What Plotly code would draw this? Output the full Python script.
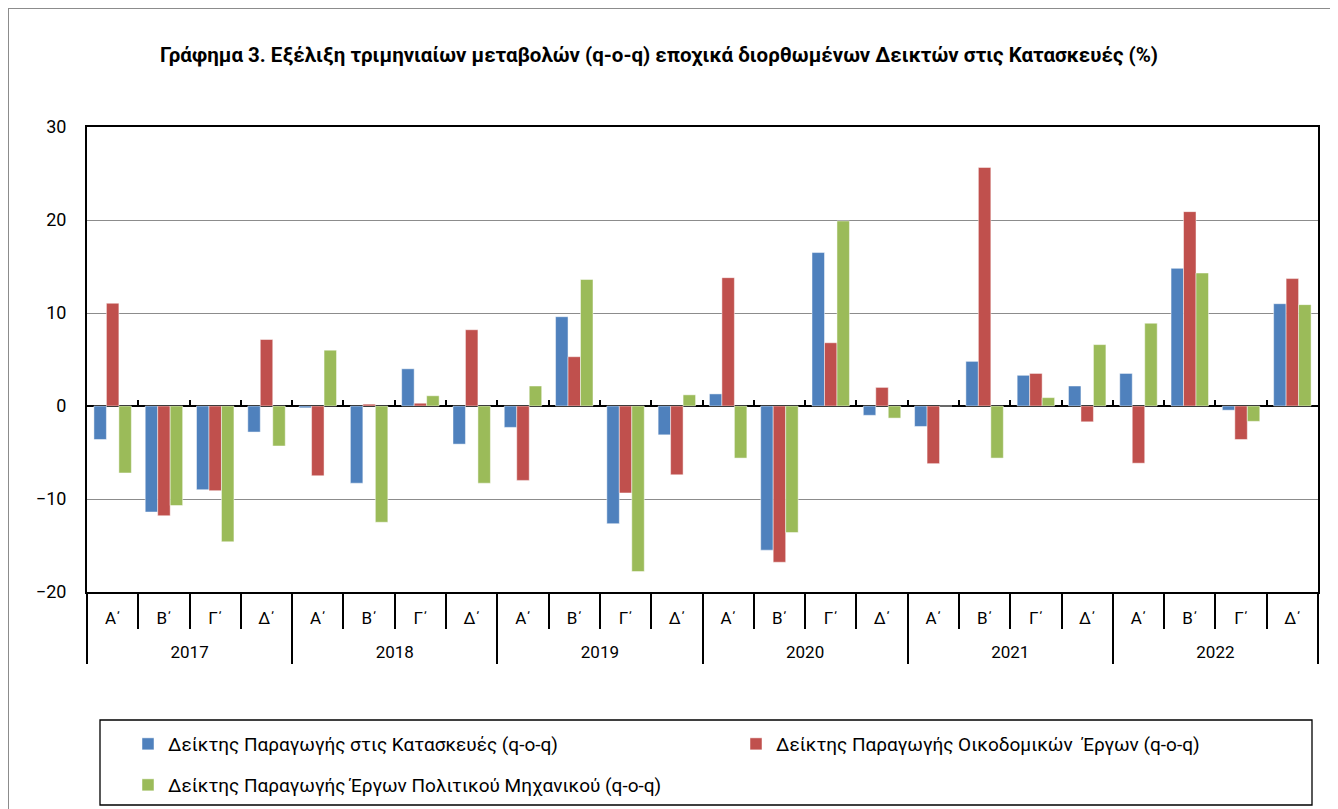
import plotly.graph_objects as go

years = ["2017", "2018", "2019", "2020", "2021", "2022"]
quarters = ["Α΄", "Β΄", "Γ΄", "Δ΄"]

construction = [-3.6, -11.4, -9.0, -2.8,
                -0.2, -8.3, 4.0, -4.1,
                -2.3, 9.6, -12.65, -3.1,
                1.3, -15.5, 16.5, -1.0,
                -2.2, 4.8, 3.3, 2.15,
                3.5, 14.8, -0.45, 11.0]
buildings = [11.05, -11.8, -9.1, 7.15,
             -7.5, 0.2, 0.3, 8.2,
             -8.0, 5.3, -9.35, -7.4,
             13.8, -16.8, 6.8, 2.0,
             -6.2, 25.65, 3.5, -1.7,
             -6.15, 20.9, -3.6, 13.7]
civil = [-7.2, -10.7, -14.6, -4.3,
         6.0, -12.5, 1.1, -8.3,
         2.15, 13.6, -17.8, 1.2,
         -5.6, -13.6, 19.9, -1.3,
         0.0, -5.6, 0.9, 6.6,
         8.9, 14.3, -1.65, 10.9]

series_names = [
    "Δείκτης Παραγωγής στις Κατασκευές (q-o-q)",
    "Δείκτης Παραγωγής Οικοδομικών  Έργων (q-o-q)",
    "Δείκτης Παραγωγής Έργων Πολιτικού Μηχανικού (q-o-q)",
]
colors = ["#4F81BD", "#C0504D", "#9BBB59"]
title_text = "Γράφημα 3. Εξέλιξη τριμηνιαίων μεταβολών (q-o-q) εποχικά διορθωμένων Δεικτών στις Κατασκευές (%)"

x_outer = [y for y in years for _ in quarters]
x_inner = [q + "<br> " for _ in years for q in quarters]
n_cat = len(x_outer)

FONT = "Roboto"

# page has an 8px body margin; work in screen coordinates and convert.
# The figure is made a little taller than the window so that legends
# never force the bottom margin to grow.
OFF = 8
W, H = 1338 - OFF, 860
PL, PR, PT, PB = 87, 1318, 127, 592          # plot area on screen
L, R, T, B = PL - OFF, W - (PR - OFF), PT - OFF, H - (PB - OFF)
pw, ph = W - L - R, H - T - B
Y_MIN, Y_MAX = -20, 30


def px_x(p):
    return (p - OFF - L) / pw


def px_y(p):
    return (H - B - (p - OFF)) / ph


legend_names = ["legend", "legend2", "legend3"]
legend_pos = [(128, 744), (736, 744), (128, 785)]

fig = go.Figure()
for name, vals, col, lg in zip(series_names, [construction, buildings, civil], colors, legend_names):
    fig.add_trace(go.Bar(
        x=[x_outer, x_inner], y=vals, name=name, legend=lg,
        marker=dict(color=col, line=dict(color="rgba(255,255,255,0.6)", width=0.8)),
    ))

legend_common = dict(xanchor="left", yanchor="middle",
                     font=dict(family=FONT, size=19, color="black"),
                     bgcolor="rgba(0,0,0,0)", borderwidth=0)

fig.update_layout(
    width=W, height=H,
    margin=dict(l=L, r=R, t=T, b=B),
    paper_bgcolor="white", plot_bgcolor="white",
    barmode="group", bargap=0.27, bargroupgap=0,
    font=dict(family=FONT, color="black", size=16),
    title=dict(text="<b>" + title_text + "</b>", x=(659 - OFF) / W, xanchor="center",
               y=1 - (55 - OFF) / H, yanchor="middle", xref="container", yref="container",
               font=dict(family=FONT, size=20.5, color="black")),
    showlegend=True,
    legend=dict(x=px_x(legend_pos[0][0]), y=px_y(legend_pos[0][1]), **legend_common),
    legend2=dict(x=px_x(legend_pos[1][0]), y=px_y(legend_pos[1][1]), **legend_common),
    legend3=dict(x=px_x(legend_pos[2][0]), y=px_y(legend_pos[2][1]), **legend_common),
    xaxis2=dict(overlaying="x", anchor="free", side="bottom",
                position=(0 - Y_MIN) / (Y_MAX - Y_MIN),
                range=[-0.5, n_cat - 0.5], showgrid=False, zeroline=False,
                showline=False, showticklabels=False,
                tickmode="array", tickvals=[i + 0.5 for i in range(n_cat - 1)],
                ticks="inside", ticklen=6, tickwidth=2, tickcolor="black"),
    shapes=[
        dict(type="rect", xref="paper", yref="paper",
             x0=px_x(100), x1=px_x(1312), y0=px_y(720), y1=px_y(805),
             line=dict(color="black", width=1.3), fillcolor="rgba(0,0,0,0)"),
        dict(type="line", xref="paper", yref="paper",
             x0=px_x(8.5), x1=px_x(8.5), y0=px_y(8), y1=px_y(860),
             line=dict(color="#8c8c8c", width=1)),
        dict(type="line", xref="paper", yref="paper",
             x0=px_x(8), x1=px_x(1338), y0=px_y(8.5), y1=px_y(8.5),
             line=dict(color="#8c8c8c", width=1)),
    ],
)

# invisible helper trace so that the zero-line tick axis is drawn
fig.add_trace(go.Scatter(x=[0], y=[0], xaxis="x2", mode="markers",
                         marker=dict(opacity=0), showlegend=False, hoverinfo="skip"))

fig.update_yaxes(
    range=[Y_MIN, Y_MAX], dtick=10, tick0=0,
    showgrid=True, gridcolor="#8c8c8c", gridwidth=1,
    zeroline=True, zerolinecolor="black", zerolinewidth=2,
    showline=True, mirror=True, linecolor="black", linewidth=2,
    ticks="", ticklabelstandoff=15,
    tickfont=dict(family=FONT, size=18, color="black"),
)
fig.update_layout(xaxis=dict(
    type="multicategory",
    showline=True, mirror=True, linecolor="black", linewidth=2,
    tickson="boundaries", ticks="outside", ticklen=35, tickwidth=2, tickcolor="black",
    showdividers=True, dividercolor="black", dividerwidth=2,
    ticklabelstandoff=10,
    tickfont=dict(family=FONT, size=17, color="black"),
    showgrid=False,
))

fig.write_html("out.html")
